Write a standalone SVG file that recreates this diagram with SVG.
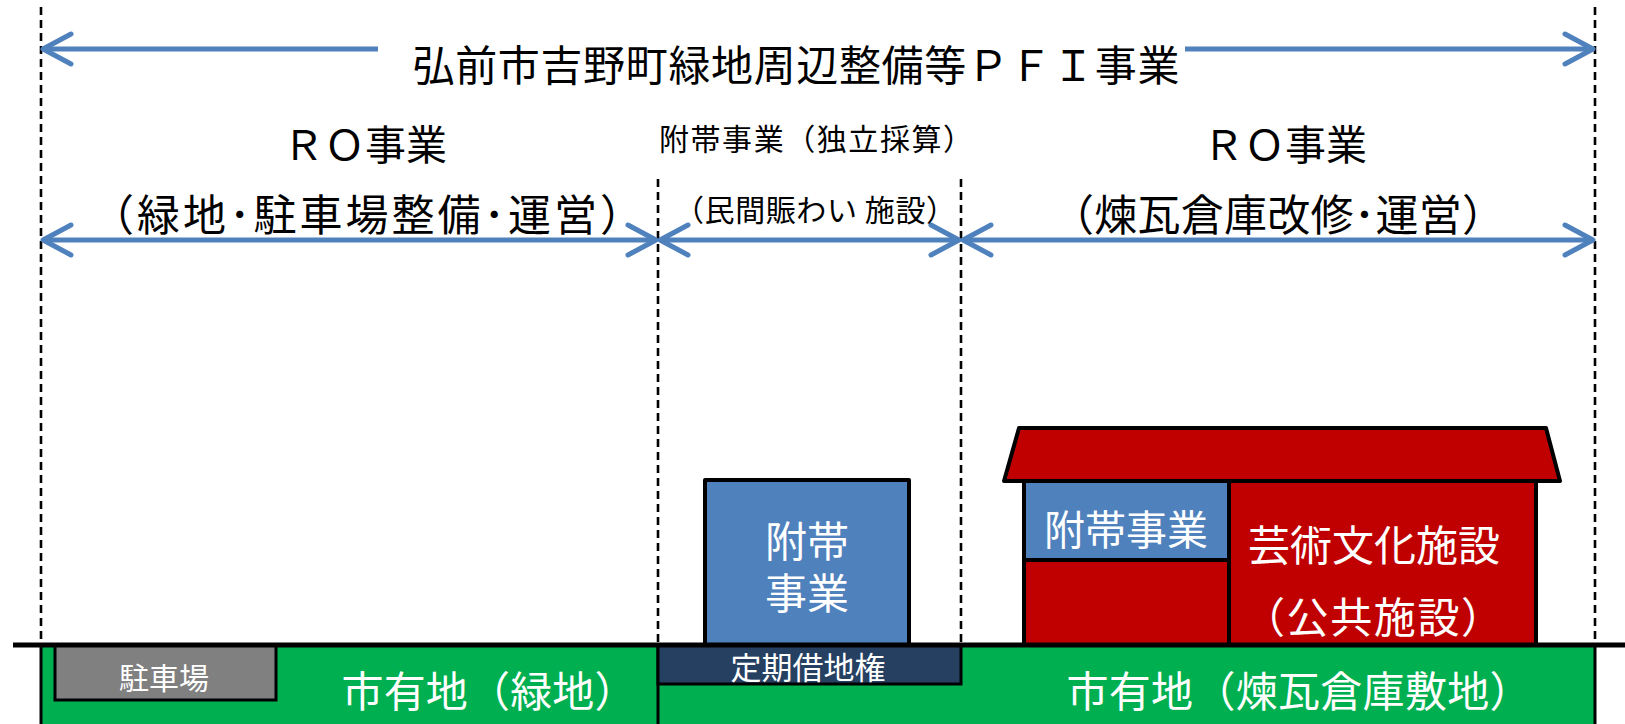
<svg xmlns="http://www.w3.org/2000/svg" width="1625" height="724" viewBox="0 0 1625 724">
  <style>
    text { font-family: "Noto Sans CJK JP", "Noto Sans", sans-serif; }
    .dark { fill: #000000; }
    .light { fill: #FFFFFF; }
    .guide { stroke: #000000; stroke-width: 2.6; stroke-dasharray: 8 5; fill: none; }
    .span { stroke: #4F81BD; stroke-width: 5; fill: none; marker-start: url(#chev); marker-end: url(#chev); }
    .half { stroke: #4F81BD; stroke-width: 5; fill: none; marker-end: url(#chev); }
    .edge { stroke: #000000; stroke-width: 4; stroke-linejoin: round; }
  </style>
  <defs>
    <marker id="chev" markerUnits="userSpaceOnUse" viewBox="-34 -20 38 40" markerWidth="38" markerHeight="40" refX="0" refY="0" orient="auto-start-reverse" overflow="visible">
      <path d="M -28 -15 L 0 0 L -28 15" fill="none" stroke="#4F81BD" stroke-width="5" stroke-linecap="round" stroke-linejoin="round"/>
    </marker>
  </defs>

  <rect width="1625" height="724" fill="#FFFFFF"/>

  <!-- land strip -->
  <g id="land">
    <rect x="41" y="645" width="1554" height="85" fill="#00B050"/>
    <line x1="41" y1="645" x2="41" y2="724" stroke="#000" stroke-width="3"/>
    <line x1="1595" y1="645" x2="1595" y2="724" stroke="#000" stroke-width="3"/>
    <line x1="658" y1="645" x2="658" y2="724" stroke="#000" stroke-width="3"/>
    <text x="489" y="707" font-size="42" text-anchor="middle" class="light" textLength="295" lengthAdjust="spacing">市有地（緑地）</text>
    <text x="1299" y="707" font-size="42" text-anchor="middle" class="light" textLength="465" lengthAdjust="spacing">市有地（煉瓦倉庫敷地）</text>
  </g>

  <!-- parking -->
  <g id="parking">
    <rect x="55" y="645" width="221" height="55" fill="#808080" stroke="#000" stroke-width="3"/>
    <text x="164" y="689" font-size="30" text-anchor="middle" class="light">駐車場</text>
  </g>

  <!-- fixed-term land lease -->
  <g id="lease">
    <rect x="658" y="645" width="303" height="39" fill="#254061" stroke="#000" stroke-width="3"/>
    <text x="808" y="679" font-size="31" text-anchor="middle" class="light">定期借地権</text>
  </g>

  <!-- independent ancillary building -->
  <g id="ancillary">
    <rect x="705" y="480" width="204" height="165" fill="#4F81BD" class="edge"/>
    <text font-size="42" text-anchor="middle" class="light"><tspan x="807" y="557">附帯</tspan><tspan x="807" y="609">事業</tspan></text>
  </g>

  <!-- brick warehouse -->
  <g id="warehouse">
    <polygon points="1019,428 1546,428 1560,481 1004,481" fill="#C00000" class="edge"/>
    <rect x="1024" y="481" width="512" height="164" fill="#C00000" class="edge"/>
    <rect x="1024" y="481" width="205" height="79" fill="#4F81BD" class="edge"/>
    <line x1="1229" y1="481" x2="1229" y2="645" class="edge"/>
    <text x="1126" y="545" font-size="41" text-anchor="middle" class="light">附帯事業</text>
    <text x="1374" y="561" font-size="42" text-anchor="middle" class="light">芸術文化施設</text>
    <text x="1373" y="633" font-size="42" text-anchor="middle" class="light" textLength="260" lengthAdjust="spacing">（公共施設）</text>
  </g>

  <!-- ground line -->
  <line x1="13" y1="645" x2="1625" y2="645" stroke="#000" stroke-width="5"/>

  <!-- section boundaries and spans -->
  <g id="connectors">
    <line x1="41" y1="7" x2="41" y2="645" class="guide"/>
    <line x1="1595" y1="7" x2="1595" y2="645" class="guide"/>
    <line x1="658" y1="179" x2="658" y2="645" class="guide"/>
    <line x1="961" y1="179" x2="961" y2="645" class="guide"/>

    <line x1="378" y1="49" x2="43" y2="49" class="half"/>
    <line x1="1185" y1="49" x2="1593" y2="49" class="half"/>

    <line x1="43" y1="240" x2="656" y2="240" class="span"/>
    <line x1="660" y1="240" x2="959" y2="240" class="span"/>
    <line x1="963" y1="240" x2="1593" y2="240" class="span"/>
  </g>

  <!-- headings -->
  <g id="labels">
    <text x="796" y="81" font-size="42" text-anchor="middle" class="dark" textLength="767" lengthAdjust="spacing">弘前市吉野町緑地周辺整備等ＰＦＩ事業</text>
    <text x="365" y="160" font-size="41" text-anchor="middle" class="dark">ＲＯ事業</text>
    <text x="367" y="231" font-size="43" text-anchor="middle" class="dark" textLength="552" lengthAdjust="spacing">（緑地･駐車場整備･運営）</text>
    <text x="816" y="150" font-size="30" text-anchor="middle" class="dark" textLength="314" lengthAdjust="spacing">附帯事業（独立採算）</text>
    <text x="815" y="221" font-size="30" text-anchor="middle" class="dark" textLength="282" lengthAdjust="spacing">（民間賑わい 施設）</text>
    <text x="1285" y="160" font-size="41" text-anchor="middle" class="dark">ＲＯ事業</text>
    <text x="1278" y="231" font-size="43" text-anchor="middle" class="dark" textLength="454" lengthAdjust="spacing">（煉瓦倉庫改修･運営）</text>
  </g>
</svg>
